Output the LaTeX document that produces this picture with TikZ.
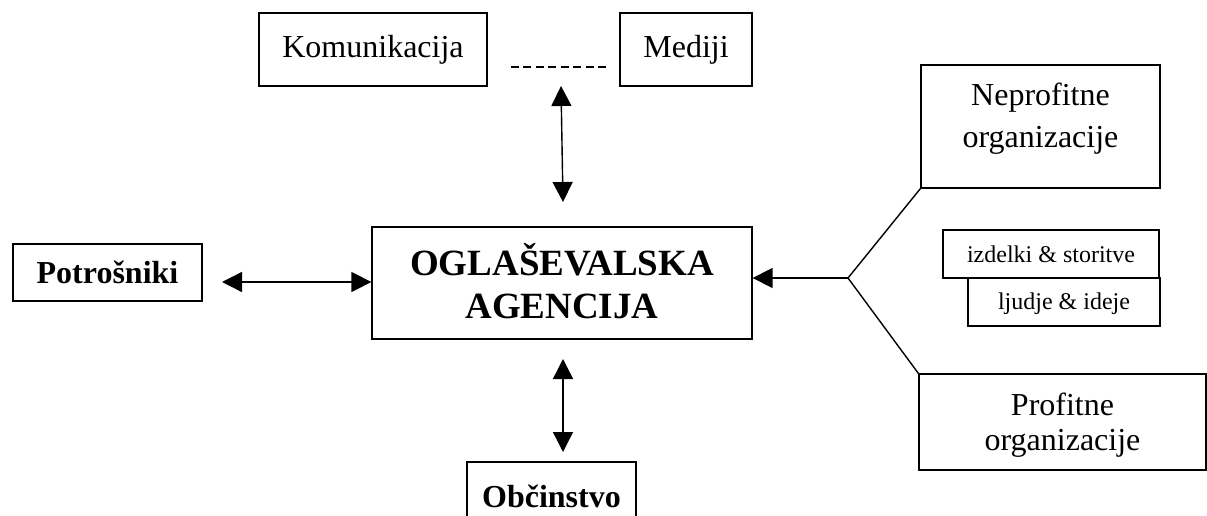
\documentclass[tikz,border=0pt]{standalone}
\usepackage{fontspec}
\setmainfont{Liberation Serif}
\usetikzlibrary{arrows.meta}

\begin{document}
\begin{tikzpicture}[x=1pt, y=-1pt,
  box/.style={draw, line width=1.3pt, inner sep=0pt, align=center,
              font=\fontsize{32}{42}\selectfont},
  bbox/.style={box, font=\fontsize{32}{42}\selectfont\bfseries},
  small/.style={box, font=\fontsize{24}{28}\selectfont},
  label text/.style={inner sep=0pt, align=center},
  link/.style={line width=1.4pt},
  dbl/.style={line width=1.4pt, {Triangle[length=20pt,width=20pt]}-{Triangle[length=20pt,width=20pt]}},
  single/.style={line width=1.4pt, -{Triangle[length=20pt,width=20pt]}}
]
\useasboundingbox (0,0) rectangle (1207,516);
\clip (0,0) rectangle (1207,516);
\fill[white] (0,0) rectangle (1207,516);

% top row
\node[box, minimum width=228pt, minimum height=73pt] (kom) at (373,49.5) {Komunikacija};
\node[box, minimum width=132pt, minimum height=73pt] (med) at (686,49.5) {Mediji};
\draw[link, dash pattern=on 8pt off 4.5pt, shorten <=23pt, shorten >=13pt]
  (kom.east |- 0,67) -- (med.west |- 0,67);

% central agency
\node[box, minimum width=380pt, minimum height=112pt] (ag) at (562,283) {};
\node[label text, font=\fontsize{37}{43}\selectfont\bfseries] (agt)
  at ([yshift=2pt]ag.center) {OGLAŠEVALSKA\\AGENCIJA};

% left: consumers
\node[bbox, minimum width=189pt, minimum height=57pt] (pot) at (107.5,272.5) {Potrošniki};
\coordinate (pa) at (222,282);
\draw[dbl] (pa) -- (ag.west |- pa);

% top arrow
\coordinate (ta) at (561,86);
\coordinate (tb) at (563,202);
\draw[dbl] (ta) -- (tb);

% bottom: public
\node[bbox, minimum width=169pt, minimum height=68pt] (obc) at (551.5,496) {Občinstvo};
\coordinate (ba) at (563,359);
\coordinate (bb) at (563,452);
\draw[dbl] (ba) -- (bb);

% right: organisations
\node[box, minimum width=239pt, minimum height=123pt] (nep) at (1040.5,126.5) {};
\node[label text, font=\fontsize{32}{42}\selectfont] (nept)
  at ([yshift=8pt]nep.center) {Neprofitne\\organizacije};
\node[box, minimum width=287pt, minimum height=96pt] (pro) at (1062.5,422) {};
\node[label text, font=\fontsize{32}{35}\selectfont] (prot)
  at ([yshift=-3pt]pro.center) {Profitne\\organizacije};
\node[small, minimum width=216pt, minimum height=48pt] (izd) at (1051,254)
  {izdelki \& storitve};
\node[small, minimum width=192pt, minimum height=48pt] (lju) at (1064,302) {};
\node[label text, font=\fontsize{24}{28}\selectfont] (ljut)
  at ([yshift=-2pt]lju.center) {ljudje \& ideje};

\coordinate (apex) at (848,278);
\draw[link] (nep.south west) -- (apex) -- (pro.north west);
\draw[single] (apex) -- (ag.east |- apex);
\end{tikzpicture}
\end{document}
